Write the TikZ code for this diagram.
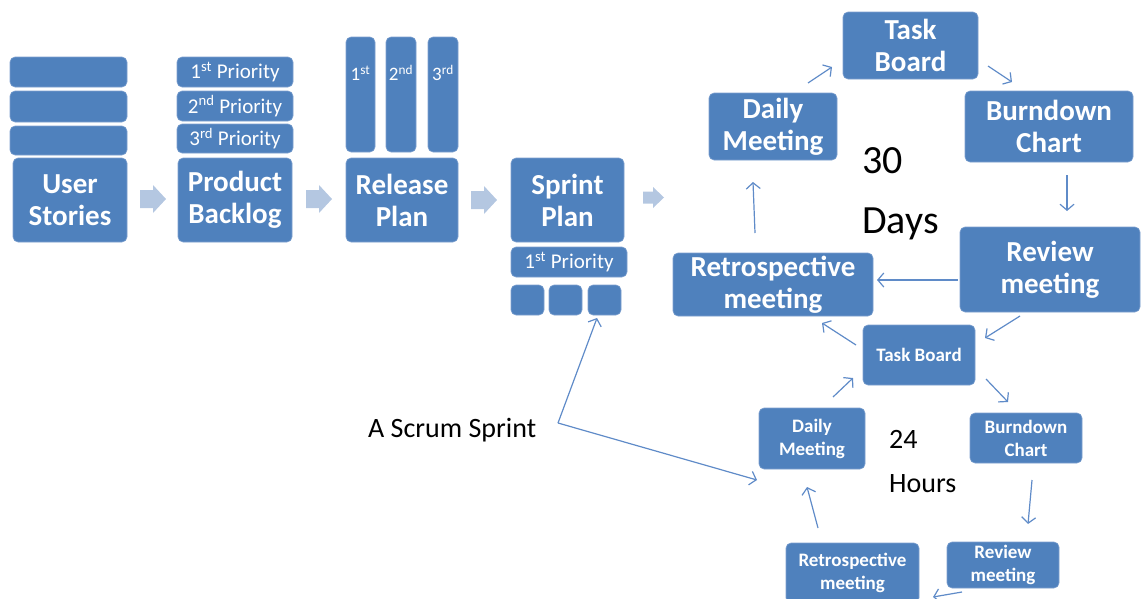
\documentclass[tikz,border=0pt]{standalone}
\usepackage{fontspec}
\setmainfont{Carlito}
\usetikzlibrary{arrows.meta}

\definecolor{boxblue}{HTML}{4F81BD}
\definecolor{boxedge}{HTML}{7DA0CF}
\definecolor{chev}{HTML}{B4C7E1}
\definecolor{linkblue}{HTML}{5F8BC8}

\tikzset{
  box/.style={fill=boxblue, draw=boxedge, line width=0.6pt, rounded corners=5pt,
              text=white, align=center, inner sep=0pt},
  bigbox/.style={box, font=\fontsize{29}{32}\selectfont\bfseries},
  prio/.style={box, font=\fontsize{21}{24}\selectfont},
  smallbox/.style={box, font=\fontsize{19}{23}\selectfont\bfseries},
  link/.style={draw=linkblue, line width=1.2pt,
              -{Straight Barb[length=6pt,width=14pt]}},
  plain/.style={text=black, anchor=base west, inner sep=0pt},
  % block arrow between the stages; origin is the tail centre
  chevron/.pic={\fill[chev] (0,-9) -- (13,-9) -- (13,-14) -- (26,0) -- (13,14) -- (13,9) -- (0,9) -- cycle;},
  smallchevron/.pic={\fill[chev] (0,-6) -- (10,-6) -- (10,-10.5) -- (21,0) -- (10,10.5) -- (10,6) -- (0,6) -- cycle;},
}

\newcommand{\nth}[2]{#1\textsuperscript{#2}}

\begin{document}
\begin{tikzpicture}[x=1pt,y=-1pt]
\useasboundingbox (0,0) rectangle (1141,598);

% ---- User Stories ----
\node[box, minimum width=117pt, minimum height=30pt] (us1) at (68.5,72) {};
\node[box, minimum width=117pt, minimum height=31pt] (us2) at (68.5,106.5) {};
\node[box, minimum width=117pt, minimum height=29pt] (us3) at (68.5,140.5) {};
\node[bigbox, minimum width=114pt, minimum height=84pt] (us) at (70,200) {User\\Stories};

% ---- Product Backlog ----
\node[prio, minimum width=116pt, minimum height=30pt] (pb1) at (235,72) {\nth{1}{st} Priority};
\node[prio, minimum width=116pt, minimum height=30pt] (pb2) at (235,106) {\nth{2}{nd} Priority};
\node[prio, minimum width=116pt, minimum height=29pt] (pb3) at (235,138.5) {\nth{3}{rd} Priority};
\node[bigbox, minimum width=114pt, minimum height=84pt] (pb) at (235,200) {Product\\Backlog};

% ---- Release Plan ----
\node[box, minimum width=29pt, minimum height=115pt] (rp1) at (360.5,94.5) {};
\node[box, minimum width=30pt, minimum height=115pt] (rp2) at (401,94.5) {};
\node[box, minimum width=30pt, minimum height=115pt] (rp3) at (443,94.5) {};
\node[text=white, font=\fontsize{19}{22}\selectfont, inner sep=0pt] (rl1) at (rp1.north |- 0,73) {\nth{1}{st}};
\node[text=white, font=\fontsize{19}{22}\selectfont, inner sep=0pt] (rl2) at (rp2.north |- 0,73) {\nth{2}{nd}};
\node[text=white, font=\fontsize{19}{22}\selectfont, inner sep=0pt] (rl3) at (rp3.north |- 0,73) {\nth{3}{rd}};
\node[bigbox, minimum width=112pt, minimum height=84pt] (rp) at (402,200) {Release\\Plan};

% ---- Sprint Plan ----
\node[bigbox, minimum width=113pt, minimum height=84pt] (sp) at (567.5,200) {Sprint\\Plan};
\node[prio, minimum width=116pt, minimum height=30pt] (sp1) at (569,262) {\nth{1}{st} Priority};
\node[box, minimum width=33pt, minimum height=30pt] (spa) at (527.5,300) {};
\node[box, minimum width=33pt, minimum height=30pt] (spb) at (565.5,300) {};
\node[box, minimum width=33pt, minimum height=30pt] (spc) at (604.5,300) {};

% ---- flow block arrows ----
\pic at (140,199) {chevron};
\pic at (306,199) {chevron};
\pic at (471,200) {chevron};
\pic at (643,197.5) {smallchevron};

% ---- 30 day cycle ----
\node[bigbox, minimum width=135pt, minimum height=67pt] (tb) at (910.5,45.5) {Task\\Board};
\node[bigbox, minimum width=168pt, minimum height=71pt] (bc) at (1049,126.5) {Burndown\\Chart};
\node[bigbox, minimum width=180pt, minimum height=85pt] (rv) at (1050,269.5) {Review\\meeting};
\node[bigbox, minimum width=200pt, minimum height=63pt] (rt) at (773,284.5) {Retrospective\\meeting};
\node[bigbox, minimum width=128pt, minimum height=67pt] (dm) at (773,126.5) {Daily\\Meeting};
\node[plain, font=\fontsize{40}{40}\selectfont] (t30) at (862,173) {30};
\node[plain, font=\fontsize{40}{40}\selectfont] (tdays) at (862,233) {Days};

\coordinate (a1s) at (808,83);   \coordinate (a1e) at (832,67);
\coordinate (a2s) at (988,66);   \coordinate (a2e) at (1012,82);
\coordinate (a3s) at (1067,175); \coordinate (a3e) at (1067,211);
\coordinate (a4s) at (958,280);  \coordinate (a4e) at (877,280);
\coordinate (a5s) at (755,233);  \coordinate (a5e) at (753,182);
\draw[link] (a1s) -- (a1e);
\draw[link] (a2s) -- (a2e);
\draw[link] (a3s) -- (a3e);
\draw[link] (a4s) -- (a4e);
\draw[link] (a5s) -- (a5e);

% ---- 24 hour cycle ----
\node[smallbox, minimum width=112pt, minimum height=60pt] (tb2) at (919,355) {Task Board};
\node[smallbox, minimum width=112pt, minimum height=50pt] (bc2) at (1026,438) {Burndown\\Chart};
\node[smallbox, minimum width=112pt, minimum height=46pt] (rv2) at (1003,565) {Review\\meeting};
\node[smallbox, minimum width=133pt, minimum height=60pt] (rt2) at (852.5,573) {Retrospective\\meeting};
\node[smallbox, minimum width=106pt, minimum height=61pt] (dm2) at (812,438.5) {Daily\\Meeting};
\node[plain, font=\fontsize{28}{28}\selectfont] (t24) at (889,448) {24};
\node[plain, font=\fontsize{28}{28}\selectfont] (thours) at (889,492) {Hours};

\coordinate (b0s) at (1020,316); \coordinate (b0e) at (985,338);
\coordinate (b1s) at (986,379);  \coordinate (b1e) at (1008,402);
\coordinate (b2s) at (1032,480); \coordinate (b2e) at (1028,524);
\coordinate (b3s) at (962,592);  \coordinate (b3e) at (933,597);
\coordinate (b4s) at (818,528);  \coordinate (b4e) at (807,487);
\coordinate (b5s) at (833,397);  \coordinate (b5e) at (853,378);
\coordinate (b6s) at (856,345);  \coordinate (b6e) at (822,323);
\draw[link] (b0s) -- (b0e);
\draw[link] (b1s) -- (b1e);
\draw[link] (b2s) -- (b2e);
\draw[link] (b3s) -- (b3e);
\draw[link] (b4s) -- (b4e);
\draw[link] (b5s) -- (b5e);
\draw[link] (b6s) -- (b6e);

% ---- sprint label with its two pointers ----
\node[plain, font=\fontsize{28}{28}\selectfont] (scrum) at (368,437) {A Scrum Sprint};
\coordinate (fork) at (558,423);
\coordinate (toplan) at (597,318);
\coordinate (tocycle) at (757,480);
\draw[link] (fork) -- (toplan);
\draw[link] (fork) -- (tocycle);
\end{tikzpicture}
\end{document}
